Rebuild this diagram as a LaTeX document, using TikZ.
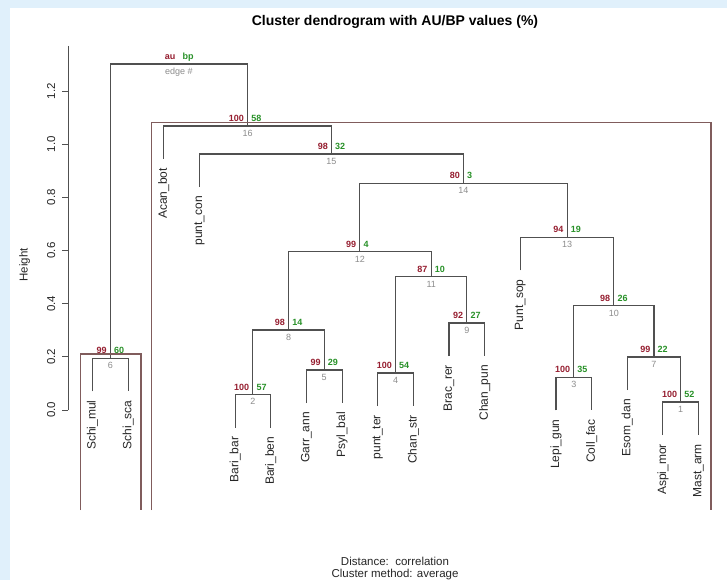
\documentclass[tikz,border=0pt]{standalone}
\usepackage{fontspec}
\setmainfont{Liberation Sans}
\usetikzlibrary{calc}
\definecolor{bgblue}{RGB}{224,240,251}
\definecolor{aured}{RGB}{150,30,48}
\definecolor{bpgreen}{RGB}{40,145,40}
\definecolor{edgegray}{RGB}{140,140,140}
\definecolor{dendgray}{RGB}{80,80,80}
\definecolor{rectcol}{RGB}{128,92,92}
\newcommand\setfs[1]{\fontsize{#1}{#1}\selectfont}
\newcommand\pvlab[4]{%
  \node[aulab] (au#1) at ($(n#1)+(-3.5,-4.5)$) {#2};
  \node[bplab] (bp#1) at ($(n#1)+(3.5,-4.5)$) {#3};
  \node[edgelab] (ed#1) at ($(n#1)+(0,4)$) {#4};}
\begin{document}
\begin{tikzpicture}[x=1pt,y=-1pt,
  dend/.style={draw=dendgray, line width=1.1pt},
  pvbox/.style={draw=rectcol, line width=1.5pt},
  axisline/.style={draw=dendgray, line width=1pt},
  leaflab/.style={rotate=90, anchor=east, inner sep=0pt, text=black!85, font=\setfs{12}},
  ticklab/.style={rotate=90, anchor=base, inner sep=0pt, text=black!85, font=\setfs{11.5}},
  aulab/.style={anchor=base east, inner sep=0pt, text=aured, font=\bfseries\setfs{9}},
  bplab/.style={anchor=base west, inner sep=0pt, text=bpgreen, font=\bfseries\setfs{9}},
  edgelab/.style={anchor=north, inner sep=0pt, text=edgegray, font=\setfs{9}}]
\useasboundingbox (0,0) rectangle (727,580);
\fill[white] (0,0) rectangle (727,580);
\fill[bgblue] (0,0) rectangle (727,8.5);
\fill[bgblue] (0,0) rectangle (10,580);

% title and captions
\node[anchor=base, inner sep=0pt, font=\bfseries\setfs{14}] (title) at (395,26) {Cluster dendrogram with AU/BP values (\%)};
\node[anchor=base, inner sep=0pt, font=\setfs{11.5}, text=black!85] (sub1) at (395,565.5) {Distance:\ \ correlation};
\node[anchor=base, inner sep=0pt, font=\setfs{11.5}, text=black!85] (sub2) at (395,577) {Cluster method: average};

% y axis
\draw[axisline] (68.3,46) -- (68.3,410);
\foreach \h/\lab in {0/0.0,0.2/0.2,0.4/0.4,0.6/0.6,0.8/0.8,1.0/1.0,1.2/1.2}{
  \draw[axisline] (68.3,{410-265.8*\h}) -- (61.7,{410-265.8*\h});
  \node[ticklab] at (55,{410-265.8*\h}) {\lab};
}
\node[ticklab] (ylab) at (27.5,265) {Height};

% leaves
\coordinate (Schi_mul) at (92.5,391.3);
\coordinate (Schi_sca) at (128.15,391.3);
\coordinate (Acan_bot) at (163.8,159);
\coordinate (punt_con) at (199.45,187);
\coordinate (Bari_bar) at (235.1,427.5);
\coordinate (Bari_ben) at (270.75,427.5);
\coordinate (Garr_ann) at (306.4,403);
\coordinate (Psyl_bal) at (342.05,403);
\coordinate (punt_ter) at (377.7,406);
\coordinate (Chan_str) at (413.35,406);
\coordinate (Brac_rer) at (449,356);
\coordinate (Chan_pun) at (484.65,356);
\coordinate (Punt_sop) at (520.3,270.3);
\coordinate (Lepi_gun) at (555.95,410.3);
\coordinate (Coll_fac) at (591.6,410.3);
\coordinate (Esom_dan) at (627.25,390);
\coordinate (Aspi_mor) at (662.9,435);
\coordinate (Mast_arm) at (698.55,435);

\node[leaflab] (tSchi_mul) at ($(Schi_mul)+(0,9)$) {Schi\_mul};
\node[leaflab] (tSchi_sca) at ($(Schi_sca)+(0,9)$) {Schi\_sca};
\node[leaflab] (tAcan_bot) at ($(Acan_bot)+(0,9)$) {Acan\_bot};
\node[leaflab] (tpunt_con) at ($(punt_con)+(0,9)$) {punt\_con};
\node[leaflab] (tBari_bar) at ($(Bari_bar)+(0,9)$) {Bari\_bar};
\node[leaflab] (tBari_ben) at ($(Bari_ben)+(0,9)$) {Bari\_ben};
\node[leaflab] (tGarr_ann) at ($(Garr_ann)+(0,9)$) {Garr\_ann};
\node[leaflab] (tPsyl_bal) at ($(Psyl_bal)+(0,9)$) {Psyl\_bal};
\node[leaflab] (tpunt_ter) at ($(punt_ter)+(0,9)$) {punt\_ter};
\node[leaflab] (tChan_str) at ($(Chan_str)+(0,9)$) {Chan\_str};
\node[leaflab] (tBrac_rer) at ($(Brac_rer)+(0,9)$) {Brac\_rer};
\node[leaflab] (tChan_pun) at ($(Chan_pun)+(0,9)$) {Chan\_pun};
\node[leaflab] (tPunt_sop) at ($(Punt_sop)+(0,9)$) {Punt\_sop};
\node[leaflab] (tLepi_gun) at ($(Lepi_gun)+(0,9)$) {Lepi\_gun};
\node[leaflab] (tColl_fac) at ($(Coll_fac)+(0,9)$) {Coll\_fac};
\node[leaflab] (tEsom_dan) at ($(Esom_dan)+(0,9)$) {Esom\_dan};
\node[leaflab] (tAspi_mor) at ($(Aspi_mor)+(0,9)$) {Aspi\_mor};
\node[leaflab] (tMast_arm) at ($(Mast_arm)+(0,9)$) {Mast\_arm};

% merge points
\coordinate (n1) at (680.725,402);
\coordinate (n2) at (252.925,394.5);
\coordinate (n3) at (573.775,377.3);
\coordinate (n4) at (395.525,373);
\coordinate (n5) at (324.225,370);
\coordinate (n6) at (110.325,358.3);
\coordinate (n7) at (653.99,357);
\coordinate (n8) at (288.575,330);
\coordinate (n9) at (466.825,323);
\coordinate (n10) at (613.88,305.7);
\coordinate (n11) at (431.175,276.7);
\coordinate (n12) at (359.875,251.7);
\coordinate (n13) at (567.09,237.3);
\coordinate (n14) at (463.48,183.3);
\coordinate (n15) at (331.47,154);
\coordinate (n16) at (247.63,126);
\coordinate (n17) at (178.98,64);

% dendrogram
\draw[dend] (Schi_mul) |- (n6) -| (Schi_sca);
\draw[dend] (n6) |- (n17) -| (n16);
\draw[dend] (Acan_bot) |- (n16) -| (n15);
\draw[dend] (punt_con) |- (n15) -| (n14);
\draw[dend] (n12) |- (n14) -| (n13);
\draw[dend] (n8) |- (n12) -| (n11);
\draw[dend] (n2) |- (n8) -| (n5);
\draw[dend] (Bari_bar) |- (n2) -| (Bari_ben);
\draw[dend] (Garr_ann) |- (n5) -| (Psyl_bal);
\draw[dend] (n4) |- (n11) -| (n9);
\draw[dend] (punt_ter) |- (n4) -| (Chan_str);
\draw[dend] (Brac_rer) |- (n9) -| (Chan_pun);
\draw[dend] (Punt_sop) |- (n13) -| (n10);
\draw[dend] (n3) |- (n10) -| (n7);
\draw[dend] (Lepi_gun) |- (n3) -| (Coll_fac);
\draw[dend] (Esom_dan) |- (n7) -| (n1);
\draw[dend] (Aspi_mor) |- (n1) -| (Mast_arm);

% AU/BP labels
\pvlab{17}{au}{bp}{edge \#}
\pvlab{16}{100}{58}{16}
\pvlab{15}{98}{32}{15}
\pvlab{14}{80}{3}{14}
\pvlab{13}{94}{19}{13}
\pvlab{12}{99}{4}{12}
\pvlab{11}{87}{10}{11}
\pvlab{10}{98}{26}{10}
\pvlab{9}{92}{27}{9}
\pvlab{8}{98}{14}{8}
\pvlab{7}{99}{22}{7}
\pvlab{6}{99}{60}{6}
\pvlab{5}{99}{29}{5}
\pvlab{4}{100}{54}{4}
\pvlab{3}{100}{35}{3}
\pvlab{2}{100}{57}{2}
\pvlab{1}{100}{52}{1}

% significance rectangles
\draw[pvbox] (80.7,510) -- (80.7,354) -- (141,354) -- (141,510);
\draw[pvbox] (151.5,510) -- (151.5,122.7) -- (711,122.7) -- (711,510);
\end{tikzpicture}
\end{document}
